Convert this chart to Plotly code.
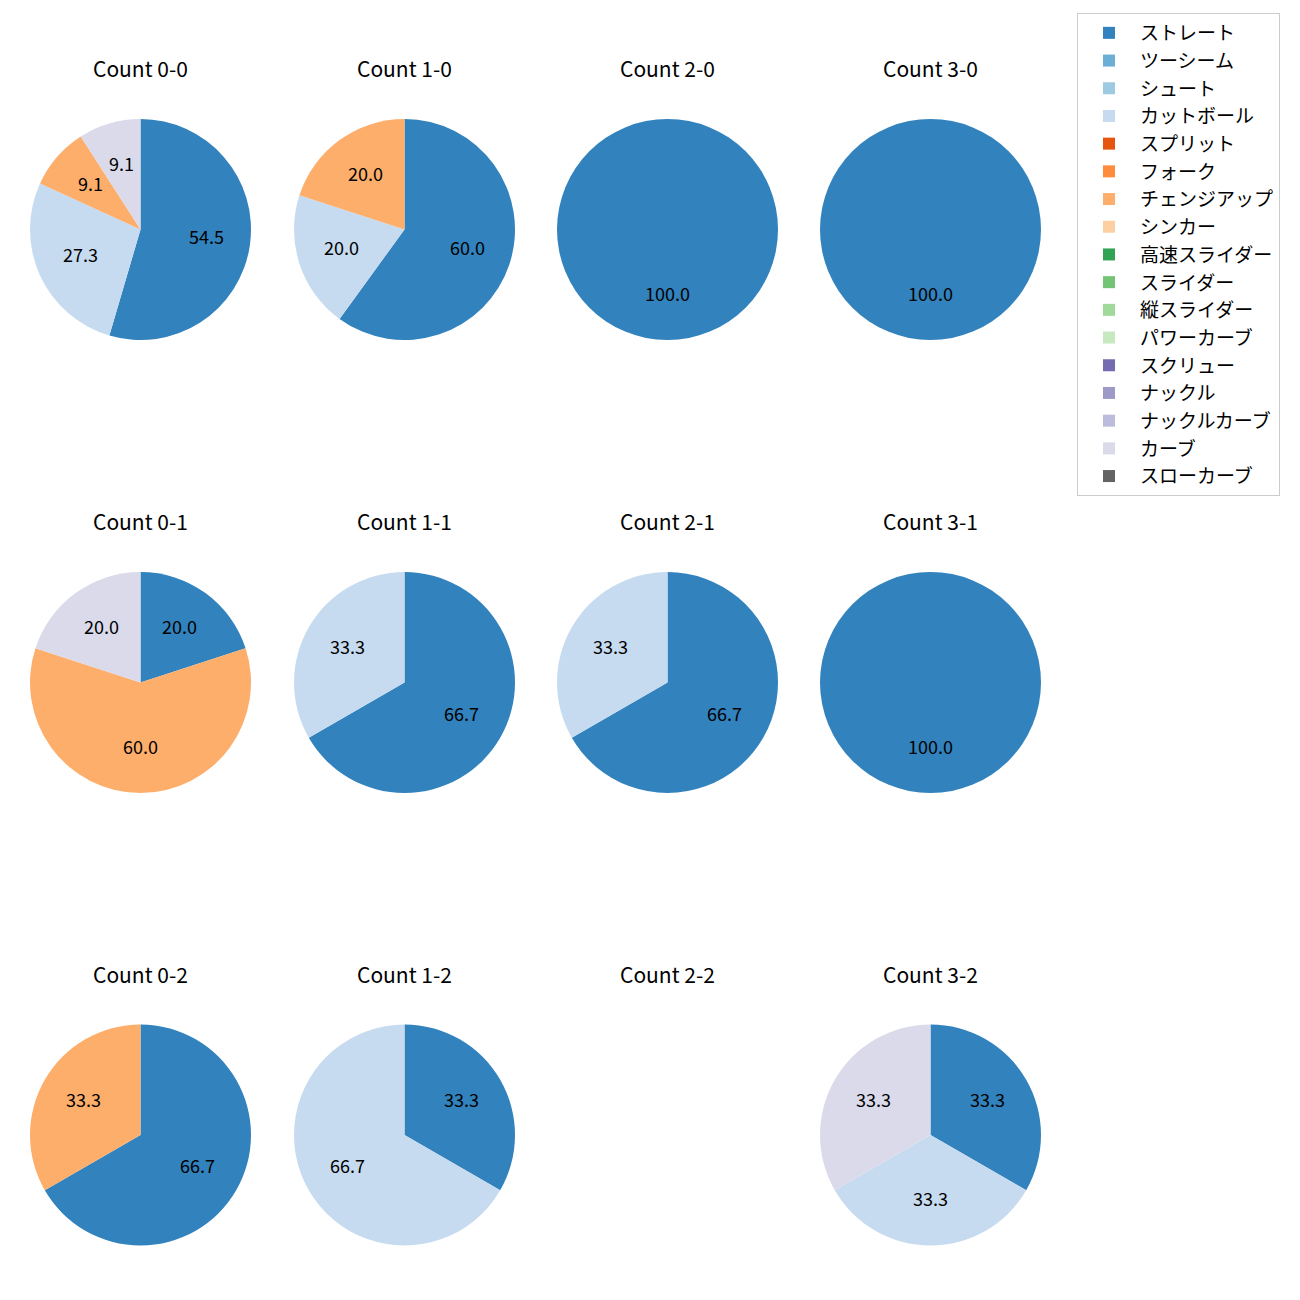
import plotly.graph_objects as go
import math

pitch_types = ["ストレート", "ツーシーム", "シュート", "カットボール", "スプリット", "フォーク",
               "チェンジアップ", "シンカー", "高速スライダー", "スライダー", "縦スライダー",
               "パワーカーブ", "スクリュー", "ナックル", "ナックルカーブ", "カーブ", "スローカーブ"]
colors = ["#3182bd", "#6baed6", "#9ecae1", "#c6dbef", "#e6550d", "#fd8d3c", "#fdae6b", "#fdd0a2",
          "#31a354", "#74c476", "#a1d99b", "#c7e9c0", "#756bb1", "#9e9ac8", "#bcbddc", "#dadaeb",
          "#636363"]

counts = ["0-0", "1-0", "2-0", "3-0", "0-1", "1-1", "2-1", "3-1", "0-2", "1-2", "2-2", "3-2"]
# pitch counts per count state (only non-zero types listed)
c_0_0 = {"ストレート": 6, "カットボール": 3, "チェンジアップ": 1, "カーブ": 1}
c_1_0 = {"ストレート": 3, "カットボール": 1, "チェンジアップ": 1}
c_2_0 = {"ストレート": 1}
c_3_0 = {"ストレート": 1}
c_0_1 = {"ストレート": 1, "チェンジアップ": 3, "カーブ": 1}
c_1_1 = {"ストレート": 2, "カットボール": 1}
c_2_1 = {"ストレート": 2, "カットボール": 1}
c_3_1 = {"ストレート": 1}
c_0_2 = {"ストレート": 2, "チェンジアップ": 1}
c_1_2 = {"ストレート": 1, "カットボール": 2}
c_2_2 = {}
c_3_2 = {"ストレート": 1, "カットボール": 1, "カーブ": 1}
data = [c_0_0, c_1_0, c_2_0, c_3_0, c_0_1, c_1_1, c_2_1, c_3_1, c_0_2, c_1_2, c_2_2, c_3_2]

W = H = 1300
OFF = 8  # page body margin
col_cx = [140.5 - OFF, 404.5 - OFF, 667.5 - OFF, 930.5 - OFF]
row_cy = [229.5 - OFF, 682.5 - OFF, 1135.0 - OFF]
R = 110.5
FONT = "Noto Sans CJK JP"

fig = go.Figure()
annotations = []
for i, (cnt, d) in enumerate(zip(counts, data)):
    r, c = divmod(i, 4)
    cx, cy = col_cx[c], row_cy[r]
    vals = [d.get(p, 0) for p in pitch_types]
    total = sum(vals)
    annotations.append(dict(x=cx / W, y=1 - (cy - R - 51) / H, xref="paper", yref="paper",
                            xanchor="center", yanchor="middle",
                            text=f"Count {cnt}", showarrow=False,
                            font=dict(size=21, color="black", family=FONT)))
    if total == 0:
        continue
    fig.add_trace(go.Pie(
        labels=pitch_types, values=vals, sort=False, direction="clockwise", rotation=0,
        marker=dict(colors=colors, line=dict(width=0)), textinfo="none", hoverinfo="label+percent",
        domain=dict(x=[(cx - R) / W, (cx + R) / W], y=[1 - (cy + R) / H, 1 - (cy - R) / H]),
        showlegend=(i == 0),
    ))
    cum = 0
    for v in vals:
        if v == 0:
            continue
        mid = (cum + v / 2) / total * 2 * math.pi
        cum += v
        lx = cx + 0.6 * R * math.sin(mid)
        ly = cy - 0.6 * R * math.cos(mid) - 3
        annotations.append(dict(x=lx / W, y=1 - ly / H, xref="paper", yref="paper",
                                xanchor="center", yanchor="middle",
                                text=f"{100 * v / total:.1f}", showarrow=False,
                                font=dict(size=18, color="black", family=FONT)))

fig.update_layout(
    width=W, height=H, margin=dict(l=0, r=0, t=0, b=0),
    paper_bgcolor="white", plot_bgcolor="white",
    annotations=annotations,
    font=dict(family=FONT),
    legend=dict(x=(1077 - OFF) / W, y=1 - (13 - OFF) / H, xanchor="left", yanchor="top",
                bordercolor="#cccccc", borderwidth=1, font=dict(size=19, color="black", family=FONT),
                traceorder="normal", itemwidth=52),
)
fig.write_html("out.html")
